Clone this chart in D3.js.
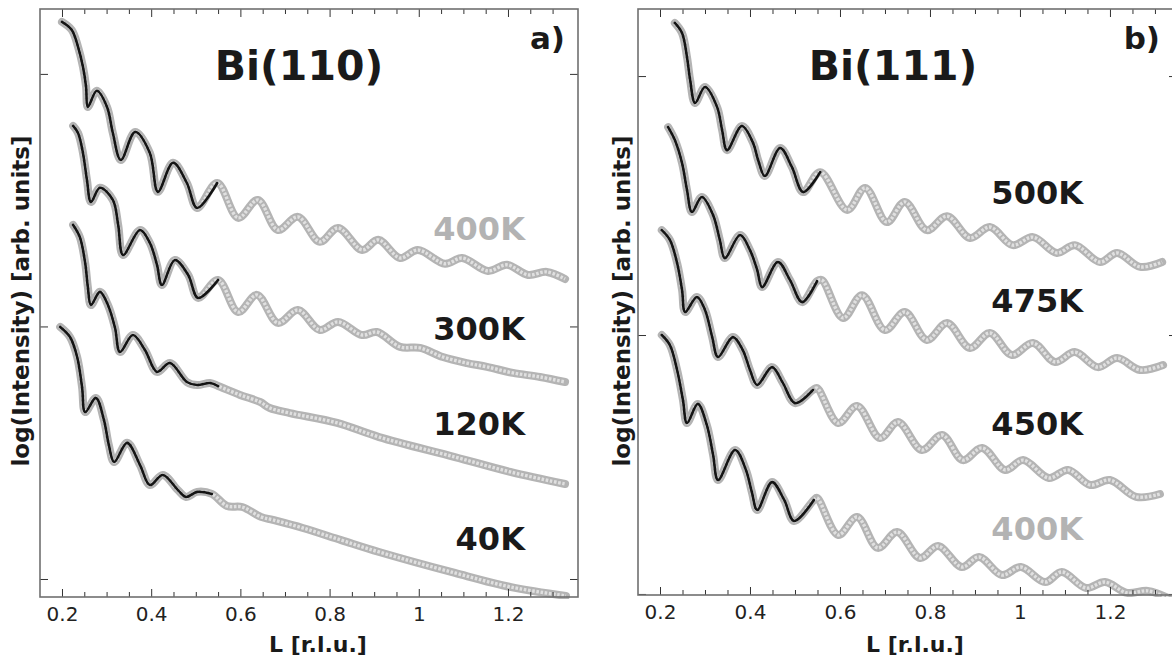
<!DOCTYPE html>
<html>
<head>
<meta charset="utf-8">
<script src="https://cdn.jsdelivr.net/npm/d3@7"></script>
<style>
  body { margin: 0; background: #fff; }
  svg { display: block; font-family: "DejaVu Sans", sans-serif; }
  .tick text { font-family: "DejaVu Sans", sans-serif; font-size: 20px; fill: #222; }
  .tick line { stroke: #333; stroke-width: 1; }
</style>
</head>
<body>
<svg id="chart" width="1172" height="660"></svg>
<script>
'use strict';

// tick values (L in r.l.u., y in decades of log intensity)
const L_TICKS = [0.2, 0.4, 0.6, 0.8, 1, 1.2];
const L_MINOR = [0.25, 0.3, 0.35, 0.45, 0.5, 0.55, 0.65, 0.7, 0.75, 0.85, 0.9, 0.95,
                 1.05, 1.1, 1.15, 1.25, 1.3];
const Y_TICKS = [0, 1, 2];

// Bi(110) curves, [L, log I]
const bi110_400K = [[0.200,2.206],[0.222,2.174],[0.236,2.107],[0.247,2.028],[0.254,1.949],[0.258,1.869],
  [0.278,1.933],[0.301,1.869],[0.314,1.766],[0.332,1.659],[0.364,1.770],[0.397,1.687],[0.415,1.533],
  [0.449,1.648],[0.480,1.568],[0.503,1.469],[0.548,1.568],[0.595,1.430],[0.639,1.501],[0.684,1.382],
  [0.729,1.434],[0.778,1.335],[0.819,1.390],[0.873,1.303],[0.909,1.343],[0.958,1.271],[0.998,1.303],
  [1.059,1.248],[1.097,1.271],[1.155,1.220],[1.198,1.244],[1.245,1.204],[1.287,1.216],[1.328,1.188]];
const bi110_300K = [[0.225,1.794],[0.236,1.766],[0.247,1.687],[0.256,1.580],[0.265,1.493],[0.285,1.549],
  [0.314,1.501],[0.326,1.402],[0.337,1.283],[0.375,1.382],[0.397,1.331],[0.413,1.244],[0.424,1.164],
  [0.453,1.263],[0.483,1.204],[0.505,1.113],[0.550,1.184],[0.595,1.057],[0.637,1.125],[0.684,1.014],
  [0.729,1.065],[0.778,0.986],[0.819,1.018],[0.873,0.966],[0.906,0.978],[0.958,0.919],[1.003,0.915],
  [1.054,0.879],[1.108,0.855],[1.153,0.840],[1.211,0.816],[1.272,0.800],[1.328,0.780]];
const bi110_120K = [[0.225,1.402],[0.240,1.354],[0.252,1.251],[0.258,1.156],[0.265,1.085],[0.285,1.137],
  [0.303,1.085],[0.319,0.994],[0.330,0.899],[0.359,0.966],[0.386,0.907],[0.413,0.820],[0.442,0.855],
  [0.480,0.780],[0.503,0.768],[0.532,0.776],[0.550,0.764],[0.599,0.729],[0.644,0.701],[0.666,0.677],
  [0.711,0.657],[0.817,0.618],[0.911,0.562],[1.081,0.483],[1.205,0.424],[1.328,0.376]];
const bi110_40K = [[0.196,0.998],[0.218,0.958],[0.234,0.879],[0.245,0.760],[0.252,0.661],[0.276,0.717],
  [0.294,0.630],[0.305,0.531],[0.317,0.463],[0.346,0.539],[0.375,0.451],[0.397,0.372],[0.426,0.412],
  [0.460,0.352],[0.478,0.325],[0.503,0.345],[0.536,0.337],[0.570,0.289],[0.604,0.285],[0.646,0.246],
  [0.673,0.234],[0.740,0.202],[0.826,0.154],[0.911,0.107],[1.081,0.024],[1.207,-0.032],[1.330,-0.067]];

// Bi(111) curves
const bi111_500K = [[0.233,2.205],[0.249,2.166],[0.260,2.073],[0.267,1.985],[0.278,1.896],[0.300,1.958],
  [0.327,1.880],[0.338,1.792],[0.349,1.714],[0.382,1.807],[0.407,1.741],[0.418,1.676],[0.433,1.614],
  [0.467,1.722],[0.493,1.649],[0.518,1.552],[0.556,1.629],[0.616,1.483],[0.656,1.568],[0.704,1.436],
  [0.744,1.514],[0.793,1.405],[0.838,1.459],[0.889,1.375],[0.933,1.417],[0.984,1.347],[1.029,1.378],
  [1.082,1.317],[1.122,1.347],[1.178,1.282],[1.216,1.317],[1.267,1.263],[1.316,1.282]];
const bi111_475K = [[0.218,1.803],[0.233,1.753],[0.249,1.664],[0.260,1.560],[0.271,1.475],[0.293,1.533],
  [0.318,1.463],[0.333,1.367],[0.344,1.297],[0.378,1.386],[0.400,1.328],[0.416,1.251],[0.427,1.185],
  [0.462,1.282],[0.489,1.212],[0.516,1.127],[0.549,1.208],[0.560,1.212],[0.607,1.066],[0.649,1.154],
  [0.700,1.019],[0.744,1.089],[0.793,0.981],[0.838,1.046],[0.889,0.950],[0.933,1.008],[0.982,0.923],
  [1.029,0.969],[1.078,0.896],[1.122,0.934],[1.173,0.876],[1.216,0.911],[1.267,0.865],[1.318,0.884]];
const bi111_450K = [[0.204,1.405],[0.222,1.367],[0.238,1.278],[0.249,1.174],[0.256,1.089],[0.282,1.147],
  [0.300,1.097],[0.316,0.992],[0.329,0.915],[0.362,0.992],[0.384,0.942],[0.400,0.865],[0.416,0.807],
  [0.449,0.876],[0.473,0.815],[0.500,0.737],[0.540,0.788],[0.549,0.795],[0.596,0.660],[0.638,0.726],
  [0.689,0.602],[0.729,0.664],[0.782,0.556],[0.827,0.614],[0.873,0.517],[0.916,0.564],[0.967,0.479],
  [1.007,0.517],[1.064,0.448],[1.107,0.479],[1.156,0.421],[1.200,0.440],[1.258,0.375],[1.311,0.386]];
const bi111_400K = [[0.204,1.000],[0.222,0.961],[0.238,0.865],[0.251,0.749],[0.260,0.660],[0.284,0.734],
  [0.304,0.653],[0.318,0.537],[0.329,0.440],[0.367,0.556],[0.391,0.479],[0.404,0.394],[0.416,0.324],
  [0.449,0.432],[0.476,0.363],[0.498,0.282],[0.542,0.363],[0.549,0.371],[0.596,0.228],[0.638,0.297],
  [0.684,0.178],[0.727,0.239],[0.778,0.139],[0.818,0.185],[0.871,0.104],[0.909,0.143],[0.960,0.073],
  [1.002,0.104],[1.056,0.046],[1.093,0.085],[1.147,0.023],[1.189,0.046],[1.238,0.004],[1.284,0.012],
  [1.329,-0.015]];

// temperature labels and where the fitted (black) curves stop
const tempsA = ['400K', '300K', '120K', '40K'];
const tempsB = ['500K', '475K', '450K', '400K'];
const fitEndA = [0.548, 0.550, 0.550, 0.536];
const fitEndB = [0.556, 0.549, 0.540, 0.542];

const svg = d3.select('#chart');

const panels = [
  {
    id: 'a', left: 40, right: 578, top: 9, bottom: 597,
    xDomain: [0.1507, 1.357], yDomain: [-0.0713, 2.257],
    curves: [bi110_400K, bi110_300K, bi110_120K, bi110_40K],
    fitEnd: fitEndA, temps: tempsA, grayTemp: 0,
    tempX: 1.238, tempY: [1.343, 0.947, 0.570, 0.115],
    title: 'Bi(110)', titleX: 299, tag: 'a)', tagX: 565,
    yLabelX: 29, xLabelX: 318
  },
  {
    id: 'b', left: 638, right: 1177, top: 9, bottom: 595,
    xDomain: [0.1511, 1.349], yDomain: [-0.004, 2.259],
    curves: [bi111_500K, bi111_475K, bi111_450K, bi111_400K],
    fitEnd: fitEndB, temps: tempsB, grayTemp: 3,
    tempX: 1.140, tempY: [1.506, 1.089, 0.614, 0.208],
    title: 'Bi(111)', titleX: 893, tag: 'b)', tagX: 1160,
    yLabelX: 630, xLabelX: 915
  }
];

function drawPanel(p) {
  const x = d3.scaleLinear().domain(p.xDomain).range([p.left, p.right]);
  const y = d3.scaleLinear().domain(p.yDomain).range([p.bottom, p.top]);
  const g = svg.append('g').attr('class', 'panel-' + p.id);

  g.append('clipPath').attr('id', 'clip-' + p.id)
    .append('rect')
    .attr('x', p.left).attr('y', p.top - 4)
    .attr('width', p.right - p.left).attr('height', p.bottom - p.top + 6);

  const line = d3.line()
    .x(d => x(d[0]))
    .y(d => y(d[1]))
    .curve(d3.curveCatmullRom.alpha(0.5));

  const plot = g.append('g').attr('clip-path', `url(#clip-${p.id})`);

  p.curves.forEach((c, i) => {
    // measured points: ring-like gray band
    plot.append('path').attr('d', line(c))
      .attr('fill', 'none').attr('stroke', '#b4b4b4')
      .attr('stroke-width', 8).attr('stroke-linejoin', 'round').attr('stroke-linecap', 'round');
    plot.append('path').attr('d', line(c))
      .attr('fill', 'none').attr('stroke', '#e0e0e0')
      .attr('stroke-width', 3.4).attr('stroke-dasharray', '2.6,1.6');
    // fit
    const fit = c.filter(d => d[0] <= p.fitEnd[i] + 1e-9);
    plot.append('path').attr('d', line(fit))
      .attr('fill', 'none').attr('stroke', '#141414')
      .attr('stroke-width', 2.6).attr('stroke-linejoin', 'round').attr('stroke-linecap', 'round');
  });

  // axes with inward ticks
  const axes = [
    [d3.axisBottom(x).tickValues(L_TICKS).tickSize(-8).tickPadding(10).tickFormat(d => d), p.bottom, 'x'],
    [d3.axisBottom(x).tickValues(L_MINOR).tickSize(-5).tickFormat(''), p.bottom, 'x'],
    [d3.axisTop(x).tickValues(L_TICKS).tickSize(-8).tickFormat(''), p.top, 'x'],
    [d3.axisTop(x).tickValues(L_MINOR).tickSize(-5).tickFormat(''), p.top, 'x'],
    [d3.axisLeft(y).tickValues(Y_TICKS).tickSize(-8).tickFormat(''), p.left, 'y'],
    [d3.axisRight(y).tickValues(Y_TICKS).tickSize(-8).tickFormat(''), p.right, 'y']
  ];
  axes.forEach(([ax, pos, dir]) => {
    const a = g.append('g')
      .attr('transform', dir === 'x' ? `translate(0,${pos})` : `translate(${pos},0)`)
      .call(ax);
    a.select('.domain').remove();
  });

  g.append('rect')
    .attr('x', p.left).attr('y', p.top)
    .attr('width', p.right - p.left).attr('height', p.bottom - p.top)
    .attr('fill', 'none').attr('stroke', '#707070').attr('stroke-width', 1.6);

  // temperature labels
  p.temps.forEach((t, i) => {
    g.append('text')
      .attr('x', x(p.tempX)).attr('y', y(p.tempY[i]))
      .attr('text-anchor', 'end')
      .attr('font-size', 32).attr('font-weight', 'bold')
      .attr('fill', i === p.grayTemp ? '#b3b3b3' : '#1a1a1a')
      .text(t);
  });

  g.append('text')
    .attr('x', p.titleX).attr('y', 80)
    .attr('text-anchor', 'middle')
    .attr('font-size', 41).attr('font-weight', 'bold').attr('fill', '#1a1a1a')
    .text(p.title);

  g.append('text')
    .attr('x', p.tagX).attr('y', 49)
    .attr('text-anchor', 'end')
    .attr('font-size', 31).attr('font-weight', 'bold').attr('fill', '#1a1a1a')
    .text(p.tag);

  g.append('text')
    .attr('transform', `translate(${p.yLabelX},301) rotate(-90)`)
    .attr('text-anchor', 'middle')
    .attr('font-size', 23).attr('font-weight', 'bold').attr('fill', '#1a1a1a')
    .text('log(Intensity) [arb. units]');

  g.append('text')
    .attr('x', p.xLabelX).attr('y', 652)
    .attr('text-anchor', 'middle')
    .attr('font-size', 22).attr('font-weight', 'bold').attr('fill', '#1a1a1a')
    .text('L [r.l.u.]');
}

panels.forEach(drawPanel);
</script>
</body>
</html>
